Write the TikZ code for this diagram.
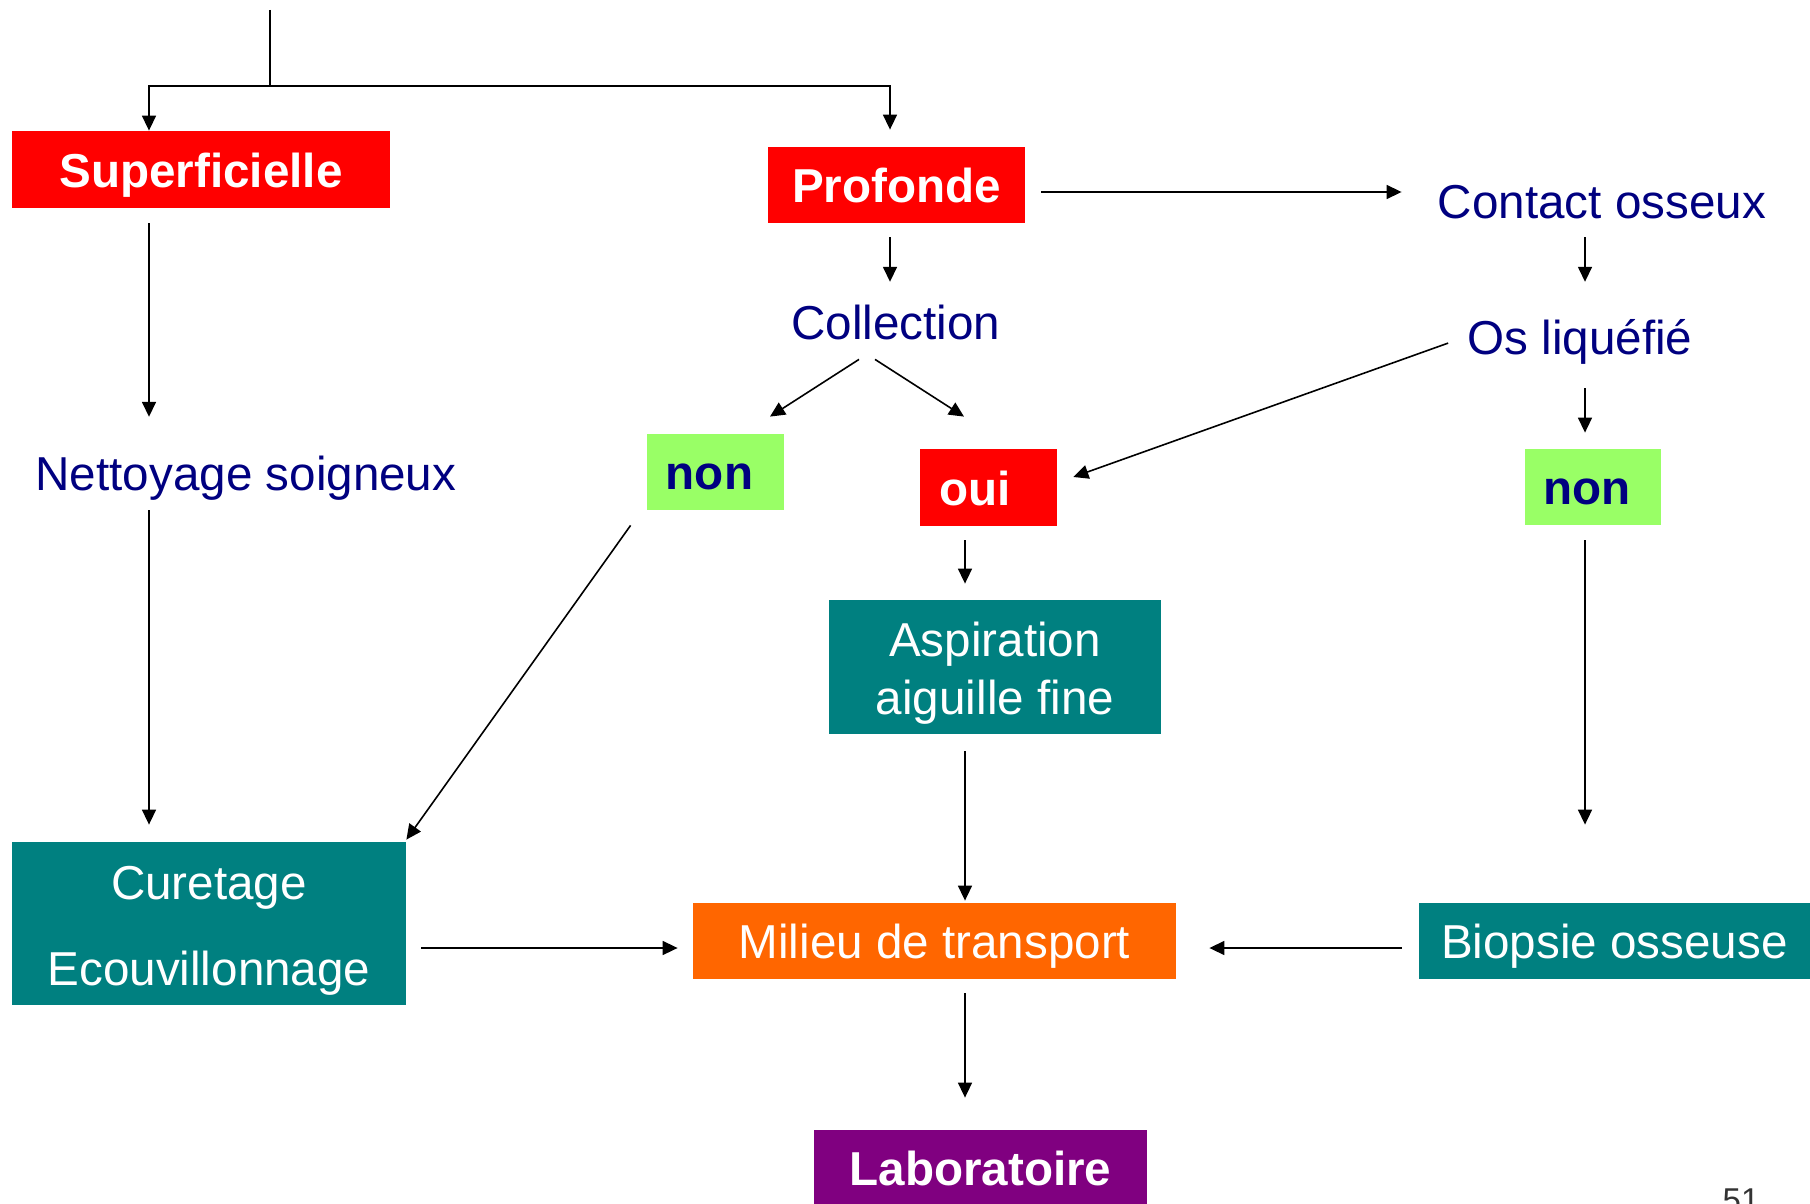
\documentclass[tikz,border=0pt]{standalone}
\usepackage{fontspec}
\setmainfont{Liberation Sans}
\usepackage{xcolor}
\usetikzlibrary{arrows.meta, calc}
\definecolor{navy}{RGB}{0,0,128}
\definecolor{redbg}{RGB}{255,0,0}
\definecolor{greenbg}{RGB}{153,255,102}
\definecolor{tealbg}{RGB}{0,128,128}
\definecolor{orangebg}{RGB}{255,102,0}
\definecolor{purplebg}{RGB}{128,0,128}
\newcommand{\bigtxt}{\fontsize{23.8}{28.6}\selectfont}

\begin{document}
\begin{tikzpicture}[
   x=0.5pt, y=-0.5pt,
   box/.style={inner sep=0pt, font=\bigtxt, text=white},
   onebox/.style={box, text height=17.9pt, text depth=0pt},
   redbox/.style={onebox, fill=redbg, font=\bigtxt\bfseries},
   yesno/.style={onebox, fill=greenbg, text=navy, font=\bigtxt\bfseries},
   tealbox/.style={box, fill=tealbg},
   lbl/.style={inner sep=0pt, anchor=base, text=navy, font=\bigtxt,
               text height=17.9pt, text depth=6pt},
   line/.style={line width=0.8pt},
   arr/.style={line, -{Triangle[length=7.5pt, width=7pt]}}]

  \useasboundingbox (0,0) rectangle (1810,1204);

  % columns of the vertical arrows
  \coordinate (xL) at (149,0);
  \coordinate (xM) at (890,0);
  \coordinate (xO) at (965,0);
  \coordinate (xR) at (1585,0);
  \coordinate (top) at (270,10);
  \coordinate (split) at (270,86);

  % boxes
  \node[redbox, minimum width=189pt, minimum height=38.5pt] (sup) at (201,169.5) {Superficielle};
  \node[redbox, minimum width=128.5pt, minimum height=38pt] (prof) at (896.5,185) {Profonde};
  \node[yesno, minimum width=68.5pt, minimum height=38pt] (nonL) at (715.5,472) {non\kern6pt};
  \node[redbox, minimum width=68.5pt, minimum height=38.5pt] (oui) at (988.5,487.5) {oui\kern13pt};
  \node[yesno, minimum width=68pt, minimum height=38pt] (nonR) at (1593,487) {non\kern6pt};
  \node[tealbox, align=center, font=\fontsize{23.8}{29}\selectfont,
        minimum width=166pt, minimum height=67pt] (asp) at (995,667)
        {\rule{0pt}{23pt}Aspiration\\aiguille fine};
  \node[tealbox, align=center, font=\fontsize{23.8}{43}\selectfont,
        minimum width=197pt, minimum height=81.5pt] (cur) at (209,923.5)
        {\rule{0pt}{24pt}Curetage\\Ecouvillonnage};
  \node[onebox, fill=orangebg, minimum width=241.5pt, minimum height=38pt] (mil) at (934.5,941) {Milieu de transport};
  \node[onebox, fill=tealbg, minimum width=195.5pt, minimum height=38pt] (bio) at (1614.5,941) {Biopsie osseuse};
  \node[onebox, fill=purplebg, font=\bigtxt\bfseries,
        minimum width=166.5pt, minimum height=38pt] (lab) at (980.5,1168) {Laboratoire};

  % plain labels
  \node[lbl] (contact) at (1602,219) {Contact osseux};
  \node[lbl] (col) at (896,339) {Collection};
  \node[lbl] (os) at (1580,354) {Os liquéfié};
  \node[lbl] (net) at (246,490) {Nettoyage soigneux};
  \node[inner sep=0pt, anchor=base, font=\fontsize{16.5}{20}\selectfont,
        text=black!80] (page) at (1741,1211) {51};

  % connectors
  \draw[line] (top) -- (split);
  \draw[arr] (split) -| (sup.north -| xL);
  \draw[arr] (split) -| ($(prof.north -| xM)+(0,-17)$);
  \draw[arr] ($(sup.south -| xL)+(0,15)$) -- ($(net.north -| xL)+(0,-37)$);
  \draw[arr] ($(net.south -| xL)+(0,8)$) -- ($(cur.north -| xL)+(0,-17)$);
  \draw[arr] ($(prof.east)+(16,7)$) -- ($(prof.east -| contact.west)+(-36,7)$);
  \draw[arr] ($(prof.south -| xM)+(0,14)$) -- ($(col.north -| xM)+(0,-21)$);
  \draw[arr] ($(contact.south -| xR)+(0,6)$) -- ($(os.north -| xR)+(0,-36)$);
  \draw[arr] ($(col.south)+(-37,8)$) -- ($(nonL.north)+(54.5,-17)$);
  \draw[arr] ($(col.south)+(-21,8)$) -- ($(oui.north)+(-24.5,-32)$);
  \draw[arr] ($(os.west)+(-19,1)$) -- ($(oui.east)+(16,-10.5)$);
  \draw[arr] ($(os.south -| xR)+(0,22)$) -- ($(nonR.north -| xR)+(0,-16)$);
  \draw[arr] ($(nonL.south west)+(-16,15)$) -- ($(cur.north east)+(0,-2)$);
  \draw[arr] ($(oui.south -| xO)+(0,14)$) -- ($(asp.north -| xO)+(0,-16)$);
  \draw[arr] ($(nonR.south -| xR)+(0,15)$) -- ($(bio.north -| xR)+(0,-78)$);
  \draw[arr] ($(asp.south -| xO)+(0,17)$) -- ($(mil.north -| xO)+(0,-2)$);
  \draw[arr] ($(cur.east |- mil.west)+(15,7)$) -- ($(mil.west)+(-15,7)$);
  \draw[arr] ($(bio.west)+(-17,7)$) -- ($(mil.east)+(33,7)$);
  \draw[arr] ($(mil.south -| xO)+(0,14)$) -- ($(lab.north -| xO)+(0,-32)$);
\end{tikzpicture}
\end{document}
